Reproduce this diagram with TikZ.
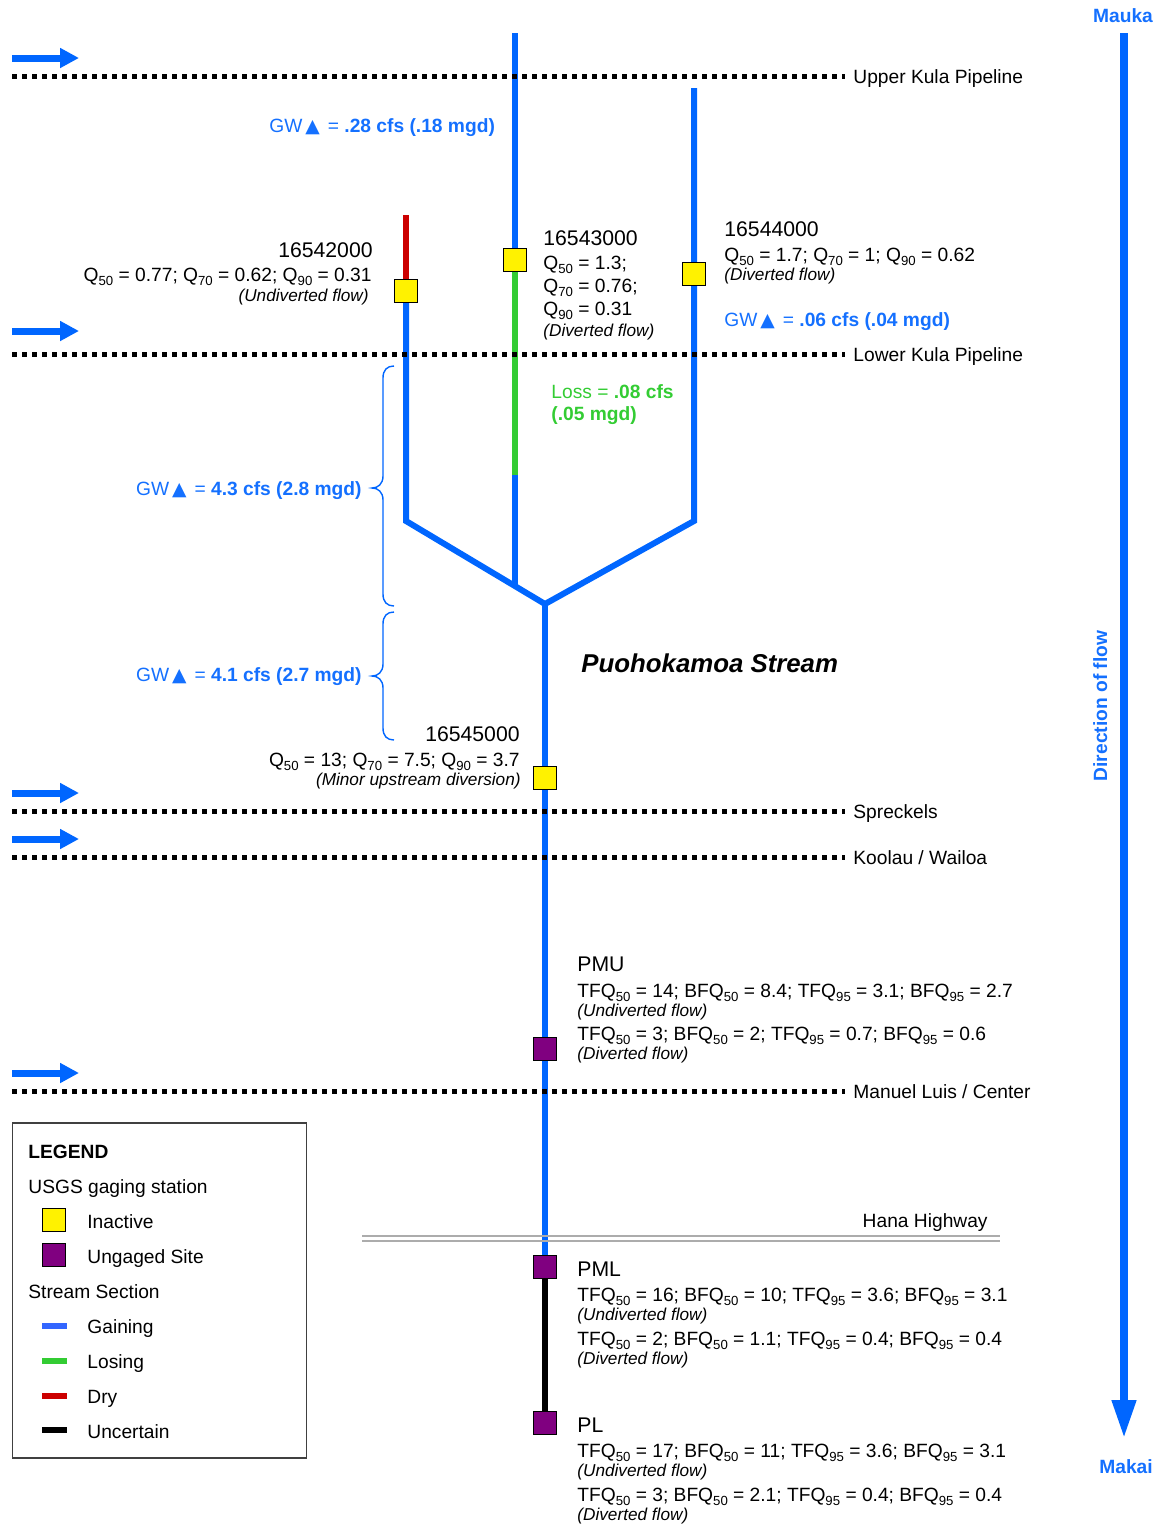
\documentclass[tikz,border=0pt]{standalone}
\usepackage{fontspec}
\setmainfont{Liberation Sans}
\newfontfamily\djv{DejaVu Sans}
\usetikzlibrary{arrows.meta,backgrounds}
\definecolor{gwblue}{RGB}{0,102,255}
\definecolor{gwtext}{RGB}{20,112,255}
\definecolor{losegreen}{RGB}{51,204,51}
\definecolor{dryred}{RGB}{204,0,0}
\definecolor{stpurple}{RGB}{128,0,128}
\definecolor{legblue}{RGB}{51,102,255}
\newcommand{\sbt}[1]{\raisebox{-2pt}{\fontsize{6.6}{7}\selectfont #1}}
\newcommand{\tri}{{\djv\fontsize{9.4}{10}\selectfont ▲}}
\newcommand{\gwlab}[1]{GW\kern1.5pt\tri\kern4pt= \textbf{#1}}
\tikzset{
  tx/.style={inner sep=0pt, anchor=base west, font=\fontsize{9.6}{11}\selectfont},
  txr/.style={tx, anchor=base east},
  idt/.style={inner sep=0pt, anchor=base west, font=\fontsize{10.6}{12}\selectfont},
  idtr/.style={idt, anchor=base east},
  nt/.style={inner sep=0pt, anchor=base west, font=\fontsize{8.6}{10}\selectfont\itshape},
  ntr/.style={nt, anchor=base east},
  boldlab/.style={inner sep=0pt, anchor=base, text=gwtext, font=\fontsize{9.6}{11}\selectfont\bfseries},
  bluetx/.style={text=gwtext},
  gain/.style={draw=gwblue, line width=3pt},
  lose/.style={draw=losegreen, line width=3pt},
  dry/.style={draw=dryred, line width=3pt},
  unc/.style={draw=black, line width=3pt},
  pipe/.style={draw=black, line width=2.5pt, dash pattern=on 2.5pt off 2.5pt, shorten >=4pt},
  inflow/.style={draw=gwblue, line width=3.5pt, -{Triangle[length=9.5pt,width=9.5pt]}},
  station/.style={draw=black, line width=0.8pt, minimum size=11.4pt, inner sep=0pt},
  inactive/.style={station, fill=yellow},
  ungaged/.style={station, fill=stpurple},
  bracel/.style={draw=gwblue, line width=0.7pt},
  legline/.style={line width=3pt},
  road/.style={draw=gray!65, line width=0.7pt}
}
\begin{document}
\begin{tikzpicture}[x=0.5pt,y=-0.5pt]
\useasboundingbox (0,0) rectangle (1165,1526);

% ---------- stations ----------
\node[inactive] (s42) at (406,291) {};
\node[inactive] (s43) at (515,260) {};
\node[inactive] (s44) at (694,274) {};
\node[inactive] (s45) at (545,778) {};
\node[ungaged] (pmu) at (545,1049) {};
\node[ungaged] (pml) at (545,1267) {};
\node[ungaged] (pl) at (545,1423) {};

% ---------- coordinates ----------
\coordinate (Ltop) at (406,215);
\coordinate (Lc) at (406,521);
\coordinate (Vb) at (545,604);
\coordinate (Rc) at (694,521);
\coordinate (Rtop) at (694,88);
\coordinate (Mtop) at (515,33);
\coordinate (Mg) at (515,475);
\coordinate (Mj) at (515,587);

\begin{scope}[on background layer]
  \draw[dry] (Ltop) -- (s42.center);
  \draw[gain, line join=miter] (s42.center) -- (Lc) -- (Vb) -- (Rc) -- (Rtop);
  \draw[gain] (Mtop) -- (s43.center);
  \draw[lose] (s43.center) -- (Mg);
  \draw[gain] (Mg) -- (Mj);
  \draw[gain] (Vb) -- (s45.center) -- (pmu.center) -- (pml.center);
  \draw[unc] (pml.center) -- (pl.center);
\end{scope}

% ---------- pipelines ----------
\node[tx] (pUK) at (853,83) {Upper Kula Pipeline};
\coordinate (pUKs) at (12,76);
\draw[pipe] (pUKs) -- (pUKs -| pUK.west);
\node[tx] (pLK) at (853,361) {Lower Kula Pipeline};
\coordinate (pLKs) at (12,354);
\draw[pipe] (pLKs) -- (pLKs -| pLK.west);
\node[tx] (pSP) at (853,818) {Spreckels};
\coordinate (pSPs) at (12,811);
\draw[pipe] (pSPs) -- (pSPs -| pSP.west);
\node[tx] (pKW) at (853,864) {Koolau / Wailoa};
\coordinate (pKWs) at (12,857);
\draw[pipe] (pKWs) -- (pKWs -| pKW.west);
\node[tx] (pML) at (853,1098) {Manuel Luis / Center};
\coordinate (pMLs) at (12,1091);
\draw[pipe] (pMLs) -- (pMLs -| pML.west);

% ---------- inflow arrows ----------
\coordinate (a1s) at (12,58);  \coordinate (a1e) at (79,58);
\coordinate (a2s) at (12,331); \coordinate (a2e) at (79,331);
\coordinate (a3s) at (12,793); \coordinate (a3e) at (79,793);
\coordinate (a4s) at (12,839); \coordinate (a4e) at (79,839);
\coordinate (a5s) at (12,1073); \coordinate (a5e) at (79,1073);
\draw[inflow] (a1s) -- (a1e);
\draw[inflow] (a2s) -- (a2e);
\draw[inflow] (a3s) -- (a3e);
\draw[inflow] (a4s) -- (a4e);
\draw[inflow] (a5s) -- (a5e);

% ---------- Hana Highway ----------
\node[txr] (hana) at (988,1227) {Hana Highway};
\coordinate (h1s) at (362,1236); \coordinate (h1e) at (1000,1236);
\coordinate (h2s) at (362,1241); \coordinate (h2e) at (1000,1241);
\draw[road] (h1s) -- (h1e);
\draw[road] (h2s) -- (h2e);

% ---------- direction of flow ----------
\node[boldlab] (mauka) at (1123,22) {Mauka};
\node[boldlab] (makai) at (1126,1473) {Makai};
\coordinate (d1) at (1124,33);
\coordinate (d2) at (1124,1438);
\draw[draw=gwblue, line width=3.75pt, -{Triangle[length=19pt,width=11.5pt]}] (d1) -- (d2);
\node[boldlab, rotate=90] (dirflow) at (1107,706) {Direction of flow};

% ---------- braces ----------
\draw[bracel] (394,366) .. controls (387,366) and (383,370) .. (383,378) -- (383,476)
  .. controls (383,484) and (378,488) .. (372,488) .. controls (378,488) and (383,492) .. (383,500)
  -- (383,594) .. controls (383,602) and (387,606) .. (394,606);
\draw[bracel] (394,612) .. controls (387,612) and (383,616) .. (383,624) -- (383,664)
  .. controls (383,672) and (378,676) .. (372,676) .. controls (378,676) and (383,680) .. (383,688)
  -- (383,728) .. controls (383,736) and (387,740) .. (394,740);

% ---------- labels ----------
\node[tx, bluetx] (gw1) at (269,132) {\gwlab{.28 cfs (.18 mgd)}};

\node[idtr] (n42) at (373,257) {16542000};
\node[txr] (q42) at (372,281) {Q\sbt{50} = 0.77; Q\sbt{70} = 0.62; Q\sbt{90} = 0.31};
\node[ntr] (f42) at (369,301) {(Undiverted flow)};

\node[idt] (n43) at (543,245) {16543000};
\node[tx] (a43) at (543,269) {Q\sbt{50} = 1.3;};
\node[tx] (b43) at (543,292) {Q\sbt{70} = 0.76;};
\node[tx] (c43) at (543,315) {Q\sbt{90} = 0.31};
\node[nt] (f43) at (543,336) {(Diverted flow)};

\node[idt] (n44) at (724,236) {16544000};
\node[tx] (q44) at (724,261) {Q\sbt{50} = 1.7; Q\sbt{70} = 1; Q\sbt{90} = 0.62};
\node[nt] (f44) at (724,280) {(Diverted flow)};
\node[tx, bluetx] (gw2) at (724,326) {\gwlab{.06 cfs (.04 mgd)}};

\node[tx, text=losegreen] (loss1) at (551,398) {Loss = \textbf{.08 cfs}};
\node[tx, text=losegreen] (loss2) at (551,420) {\textbf{(.05 mgd)}};

\node[txr, bluetx] (gw3) at (362,495) {\gwlab{4.3 cfs (2.8 mgd)}};
\node[txr, bluetx] (gw4) at (362,681) {\gwlab{4.1 cfs (2.7 mgd)}};

\node[inner sep=0pt, anchor=base west, font=\fontsize{12.9}{15}\selectfont\bfseries\itshape] (sname) at (581,672) {Puohokamoa Stream};

\node[idtr] (n45) at (520,741) {16545000};
\node[txr] (q45) at (520,766) {Q\sbt{50} = 13; Q\sbt{70} = 7.5; Q\sbt{90} = 3.7};
\node[ntr] (f45) at (521,785) {(Minor upstream diversion)};

\node[idt] (npmu) at (577,971) {PMU};
\node[tx] (pmu1) at (577,997) {TFQ\sbt{50} = 14; BFQ\sbt{50} = 8.4; TFQ\sbt{95} = 3.1; BFQ\sbt{95} = 2.7};
\node[nt] (pmu2) at (577,1016) {(Undiverted flow)};
\node[tx] (pmu3) at (577,1040) {TFQ\sbt{50} = 3; BFQ\sbt{50} = 2; TFQ\sbt{95} = 0.7; BFQ\sbt{95} = 0.6};
\node[nt] (pmu4) at (577,1059) {(Diverted flow)};

\node[idt] (npml) at (577,1276) {PML};
\node[tx] (pml1) at (577,1301) {TFQ\sbt{50} = 16; BFQ\sbt{50} = 10; TFQ\sbt{95} = 3.6; BFQ\sbt{95} = 3.1};
\node[nt] (pml2) at (577,1320) {(Undiverted flow)};
\node[tx] (pml3) at (577,1345) {TFQ\sbt{50} = 2; BFQ\sbt{50} = 1.1; TFQ\sbt{95} = 0.4; BFQ\sbt{95} = 0.4};
\node[nt] (pml4) at (577,1364) {(Diverted flow)};

\node[idt] (npl) at (577,1432) {PL};
\node[tx] (pl1) at (577,1457) {TFQ\sbt{50} = 17; BFQ\sbt{50} = 11; TFQ\sbt{95} = 3.6; BFQ\sbt{95} = 3.1};
\node[nt] (pl2) at (577,1476) {(Undiverted flow)};
\node[tx] (pl3) at (577,1501) {TFQ\sbt{50} = 3; BFQ\sbt{50} = 2.1; TFQ\sbt{95} = 0.4; BFQ\sbt{95} = 0.4};
\node[nt] (pl4) at (577,1520) {(Diverted flow)};

% ---------- legend ----------
\node[draw=black!75, line width=0.6pt, minimum width=147pt, minimum height=167.5pt, inner sep=0pt] (legend) at (159.5,1290.5) {};
\node[tx, font=\fontsize{9.6}{11}\selectfont\bfseries] (lgt) at (28,1158) {LEGEND};
\node[tx] (lg1) at (28,1193) {USGS gaging station};
\node[inactive] (lgy) at (54,1220) {};
\node[tx] (lg2) at (87,1228) {Inactive};
\node[ungaged] (lgp) at (54,1255) {};
\node[tx] (lg3) at (87,1263) {Ungaged Site};
\node[tx] (lg4) at (28,1298) {Stream Section};
\coordinate (lb1) at (42,1326); \coordinate (lb2) at (67,1326);
\coordinate (lc1) at (42,1361); \coordinate (lc2) at (67,1361);
\coordinate (ld1) at (42,1396); \coordinate (ld2) at (67,1396);
\coordinate (le1) at (42,1430); \coordinate (le2) at (67,1430);
\draw[legline, legblue] (lb1) -- (lb2);
\draw[legline, losegreen] (lc1) -- (lc2);
\draw[legline, dryred] (ld1) -- (ld2);
\draw[legline, black] (le1) -- (le2);
\node[tx] (lg5) at (87,1333) {Gaining};
\node[tx] (lg6) at (87,1368) {Losing};
\node[tx] (lg7) at (87,1403) {Dry};
\node[tx] (lg8) at (87,1438) {Uncertain};
\end{tikzpicture}
\end{document}
